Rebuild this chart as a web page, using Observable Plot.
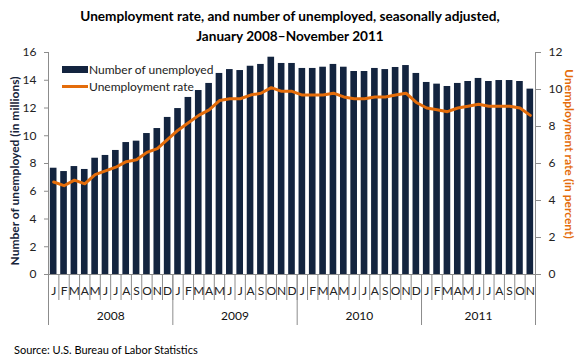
<!DOCTYPE html>
<html>
<head>
<meta charset="utf-8">
<script src="https://cdn.jsdelivr.net/npm/d3@7"></script>
<script src="https://cdn.jsdelivr.net/npm/@observablehq/plot@0.6"></script>
<style>
  html, body { margin: 0; padding: 0; background: #fff; }
  body { width: 580px; height: 363px; position: relative; overflow: hidden; font-family: Lato, "Open Sans", sans-serif; }
  #title { position: absolute; top: 6px; left: 0; width: 580px; text-align: center; font-weight: bold; font-size: 13.6px; line-height: 20px; color: #000; }
  #chart { position: absolute; top: 44px; left: 0; }
  #source { position: absolute; top: 343px; left: 14px; font-size: 11px; color: #000; }
</style>
</head>
<body>
<div id="title">Unemployment rate, and number of unemployed, seasonally adjusted,<br>January 2008–November 2011</div>
<div id="chart"></div>
<div id="source">Source: U.S. Bureau of Labor Statistics</div>
<script>
const monthLetters = ["J","F","M","A","M","J","J","A","S","O","N","D"];
const years = ["2008", "2009", "2010", "2011"];
// Number of unemployed (millions), Jan 2008 – Nov 2011
const unemployed = [
  7.66, 7.42, 7.78, 7.57, 8.38, 8.58, 8.94, 9.51, 9.61, 10.16, 10.52, 11.32,
  11.96, 12.76, 13.26, 13.77, 14.49, 14.77, 14.70, 15.01, 15.14, 15.66, 15.21, 15.21,
  14.85, 14.85, 14.94, 15.14, 14.94, 14.63, 14.63, 14.85, 14.77, 14.92, 15.06, 14.49,
  13.84, 13.72, 13.55, 13.77, 13.91, 14.13, 13.91, 13.98, 13.98, 13.91, 13.36
];
// Unemployment rate (percent)
const rate = [
  5.0, 4.8, 5.1, 4.9, 5.4, 5.6, 5.8, 6.1, 6.2, 6.6, 6.8, 7.3,
  7.8, 8.2, 8.6, 8.9, 9.4, 9.5, 9.5, 9.7, 9.8, 10.1, 9.9, 9.9,
  9.7, 9.7, 9.7, 9.8, 9.6, 9.5, 9.5, 9.6, 9.6, 9.7, 9.8, 9.3,
  9.0, 8.9, 8.8, 9.0, 9.1, 9.2, 9.1, 9.1, 9.1, 9.0, 8.6
];

const navy = "#13243f";
const orange = "#e46c0a";
const grid = "#8c8c8c";
const leftMax = 16, rightMax = 12;
const k = leftMax / rightMax;

const data = unemployed.map((v, i) => ({i, v, r: rate[i]}));
const n = data.length;
const yearStarts = years.map((y, j) => j * 12 - 0.5);
const yearEdges = [...yearStarts, n - 0.5];
const yearCenters = years.map((y, j) => (yearEdges[j] + yearEdges[j + 1]) / 2);

const chart = Plot.plot({
  width: 580,
  height: 288,
  marginTop: 8,
  marginLeft: 48,
  marginRight: 45,
  marginBottom: 58,
  style: {fontFamily: "Lato, 'Open Sans', sans-serif", fontSize: "12px", color: "#222", background: "#fff"},
  x: {domain: [-0.5, n - 0.5], label: null},
  y: {domain: [0, leftMax], label: null},
  marks: [
    Plot.rectY(data, {x1: d => d.i - 0.32, x2: d => d.i + 0.32, y: "v", fill: navy}),
    Plot.lineY(data, {x: "i", y: d => d.r * k, stroke: orange, strokeWidth: 3, strokeLinejoin: "round"}),
    Plot.ruleY([0], {stroke: grid}),
    Plot.ruleX([-0.5, n - 0.5], {y1: 0, y2: leftMax, stroke: grid}),
    Plot.axisY({ticks: d3.range(0, leftMax + 1, 2), tickSize: 4, tickPadding: 8, stroke: grid, fill: "#222", label: null, fontSize: 12}),
    Plot.axisY({anchor: "right", ticks: d3.range(0, rightMax + 1, 2).map(r => r * k), tickFormat: d => String(Math.round(d / k)), tickSize: 5, tickPadding: 8, stroke: grid, fill: "#222", label: null, fontSize: 12}),
    Plot.axisX({ticks: d3.range(-0.5, n, 1), tickSize: 26, tickFormat: () => "", stroke: grid, label: null}),
    Plot.axisX({ticks: yearEdges, tickSize: 51, tickFormat: () => "", stroke: grid, label: null}),
    Plot.axisX({ticks: d3.range(n), tickSize: 0, tickPadding: 12, tickFormat: i => monthLetters[i % 12], fill: "#222", label: null, fontSize: 12}),
    Plot.axisX({ticks: yearCenters, tickSize: 0, tickPadding: 37, tickFormat: d => years[yearCenters.indexOf(d)], fill: "#111", label: null, fontSize: 12})
  ]
});

document.getElementById("chart").appendChild(chart);

const svg = d3.select(chart);
// axis titles
svg.append("text")
  .attr("transform", "translate(14,127) rotate(-90)")
  .attr("text-anchor", "middle").attr("dominant-baseline", "central")
  .attr("font-weight", "bold").attr("font-size", 12).attr("fill", "#17243a")
  .text("Number of unemployed (in millions)");
svg.append("text")
  .attr("transform", "translate(569,110) rotate(90)")
  .attr("text-anchor", "middle").attr("dominant-baseline", "central")
  .attr("font-weight", "bold").attr("font-size", 12).attr("fill", orange)
  .text("Unemployment rate (in percent)");
// legend
const lg = svg.append("g").attr("font-size", 12).attr("fill", "#222").attr("text-anchor", "start");
lg.append("rect").attr("x", 62).attr("y", 22).attr("width", 26).attr("height", 7).attr("fill", navy);
lg.append("text").attr("x", 89).attr("y", 25.5).attr("text-anchor", "start").attr("dominant-baseline", "central").text("Number of unemployed");
lg.append("line").attr("x1", 62).attr("x2", 88).attr("y1", 42.5).attr("y2", 42.5).attr("stroke", orange).attr("stroke-width", 3);
lg.append("text").attr("x", 89).attr("y", 42).attr("text-anchor", "start").attr("dominant-baseline", "central").text("Unemployment rate");
</script>
</body>
</html>
